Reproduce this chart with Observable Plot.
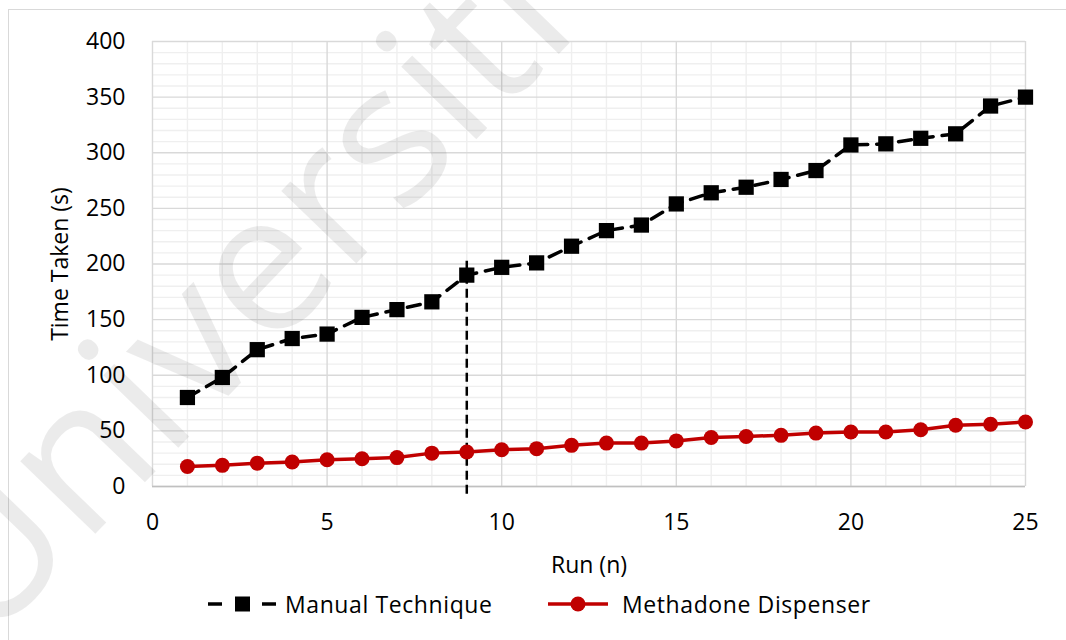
<!DOCTYPE html>
<html>
<head>
<meta charset="utf-8">
<script src="https://cdn.jsdelivr.net/npm/d3@7"></script>
<script src="https://cdn.jsdelivr.net/npm/@observablehq/plot@0.6"></script>
<style>
  html, body { margin: 0; padding: 0; background: #fff; }
  #wrap { position: relative; width: 1066px; height: 640px; overflow: hidden; font-family: "Open Sans", sans-serif; }
  #frame { position: absolute; left: 8px; top: 9px; width: 1070px; height: 650px; border: 1px solid #d9d9d9; box-sizing: border-box; pointer-events: none; }
  #chart { position: absolute; left: 0; top: 0; }
  .leg { position: absolute; top: 590px; height: 28px; display: flex; align-items: center; font-size: 23px; letter-spacing: 0.6px; color: #000; white-space: nowrap; }
  #wm { position: absolute; left: 0; top: 0; pointer-events: none; }
</style>
</head>
<body>
<div id="wrap">
  <div id="frame"></div>
  <div id="chart"></div>
  <div class="leg" id="leg1" style="left:205px;"></div>
  <div class="leg" id="leg2" style="left:545px;"></div>
  <svg id="wm" width="1066" height="640"></svg>
</div>
<script>
// ---- data ----
const runs = [1, 2, 3, 4, 5, 6, 7, 8, 9, 10, 11, 12, 13, 14, 15, 16, 17, 18, 19, 20, 21, 22, 23, 24, 25];
const manualTechnique = [80, 98, 123, 133, 137, 152, 159, 166, 190, 197, 201, 216, 230, 235, 254, 264, 269, 276, 284, 307, 308, 313, 317, 342, 350];
const methadoneDispenser = [18, 19, 21, 22, 24, 25, 26, 30, 31, 33, 34, 37, 39, 39, 41, 44, 45, 46, 48, 49, 49, 51, 55, 56, 58];
const seriesNames = ["Manual Technique", "Methadone Dispenser"];
const xTicks = [0, 5, 10, 15, 20, 25];
const xMinorTicks = [1, 2, 3, 4, 6, 7, 8, 9, 11, 12, 13, 14, 16, 17, 18, 19, 21, 22, 23, 24];
const yTicks = [0, 50, 100, 150, 200, 250, 300, 350, 400];
const yMinorTicks = [10, 20, 30, 40, 60, 70, 80, 90, 110, 120, 130, 140, 160, 170, 180, 190, 210, 220, 230, 240, 260, 270, 280, 290, 310, 320, 330, 340, 360, 370, 380, 390];
const cutoffRun = [9];
const cutoffSpan = [-7, 205];
const watermarkText = "Universiti Malaya";

const manualData = runs.map((r, i) => ({run: r, time: manualTechnique[i]}));
const dispenserData = runs.map((r, i) => ({run: r, time: methadoneDispenser[i]}));

const RED = "#c00000";

const chart = Plot.plot({
  width: 1066,
  height: 580,
  marginTop: 41,
  marginLeft: 152,
  marginRight: 41,
  marginBottom: 94,
  style: {fontFamily: "Open Sans, sans-serif", fontSize: "23px", color: "#000", background: "transparent", overflow: "visible"},
  x: {domain: [0, 25], ticks: xTicks, tickSize: 0, tickPadding: 27, label: "Run (n)", labelAnchor: "center", labelOffset: 86, labelArrow: "none"},
  y: {domain: [0, 400], ticks: yTicks, tickSize: 0, tickPadding: 27, label: "Time Taken (s)", labelAnchor: "center", labelOffset: 101, labelArrow: "none"},
  marks: [
    Plot.gridX(xMinorTicks, {stroke: "#efefef", strokeOpacity: 1, strokeWidth: 1.4}),
    Plot.gridY(yMinorTicks, {stroke: "#efefef", strokeOpacity: 1, strokeWidth: 1.4}),
    Plot.gridX(xTicks, {stroke: "#d9d9d9", strokeOpacity: 1, strokeWidth: 1.4}),
    Plot.gridY(yTicks, {stroke: "#d9d9d9", strokeOpacity: 1, strokeWidth: 1.4}),
    Plot.ruleY([0], {stroke: "#c0c0c0", strokeWidth: 1.6}),
    Plot.ruleX(cutoffRun, {y1: cutoffSpan[0], y2: cutoffSpan[1], stroke: "#000", strokeWidth: 2.5, strokeDasharray: "9,5"}),
    Plot.line(dispenserData, {x: "run", y: "time", stroke: RED, strokeWidth: 3.5}),
    Plot.dot(dispenserData, {x: "run", y: "time", r: 7.5, fill: RED, stroke: "none"}),
    Plot.line(manualData, {x: "run", y: "time", stroke: "#000", strokeWidth: 3.5, strokeDasharray: "13,9"}),
    Plot.dot(manualData, {x: "run", y: "time", symbol: "square", r: 8.6, fill: "#000", stroke: "none"})
  ]
});
document.getElementById("chart").appendChild(chart);

// ---- legend ----
document.getElementById("leg1").innerHTML =
  `<svg width="80" height="28">
     <line x1="3" x2="17" y1="14" y2="14" stroke="#000" stroke-width="3.5"/>
     <rect x="30" y="6.5" width="15" height="15" fill="#000"/>
     <line x1="57" x2="71" y1="14" y2="14" stroke="#000" stroke-width="3.5"/>
   </svg><span>${seriesNames[0]}</span>`;
document.getElementById("leg2").innerHTML =
  `<svg width="77" height="28">
     <line x1="3" x2="63" y1="14" y2="14" stroke="${RED}" stroke-width="3.5"/>
     <circle cx="33" cy="14" r="7.5" fill="${RED}"/>
   </svg><span>${seriesNames[1]}</span>`;

// ---- watermark ----
d3.select("#wm").append("text")
  .attr("transform", "translate(-15,648) rotate(-46)")
  .attr("font-family", "Open Sans, sans-serif")
  .attr("font-size", 195)
  .attr("fill", "#000")
  .attr("fill-opacity", 0.08)
  .text(watermarkText);
</script>
</body>
</html>
